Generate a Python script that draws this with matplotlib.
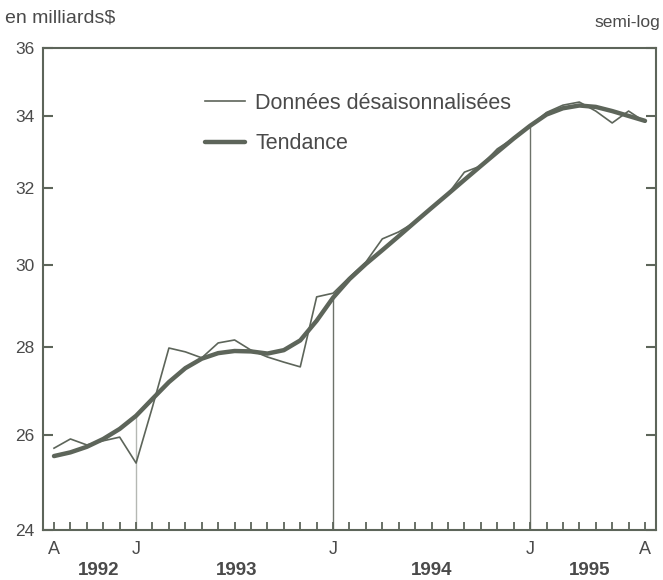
import matplotlib
matplotlib.use('Agg')

import numpy as np
import matplotlib.pyplot as plt

# monthly, aout 1992 .. aout 1995
months = np.arange(37)
raw = [25.71, 25.91, 25.78, 25.87, 25.95, 25.39, 26.62, 27.97, 27.88, 27.74,
       28.09, 28.16, 27.92, 27.76, 27.64, 27.53, 29.20, 29.29, 29.69, 30.07,
       30.66, 30.84, 31.10, 31.47, 31.84, 32.43, 32.60, 33.07, 33.37, 33.71,
       34.10, 34.31, 34.40, 34.14, 33.80, 34.14, 33.83]
trend = [25.54, 25.62, 25.74, 25.91, 26.13, 26.42, 26.80, 27.18, 27.50, 27.72,
         27.85, 27.90, 27.89, 27.84, 27.92, 28.15, 28.62, 29.18, 29.64, 30.02,
         30.37, 30.73, 31.10, 31.47, 31.84, 32.22, 32.60, 32.98, 33.36, 33.72,
         34.04, 34.22, 34.30, 34.26, 34.14, 34.00, 33.86]
month_labels = {0: 'A', 5: 'J', 17: 'J', 29: 'J', 36: 'A'}
years = ['1992', '1993', '1994', '1995']
year_pos = [2.7, 11.1, 23.0, 32.6]
yticks = [24, 26, 28, 30, 32, 34, 36]

LINE = '#5d655a'
TEXT = '#4a4a4a'
plt.rcParams['font.family'] = ['Liberation Sans', 'DejaVu Sans']

fig = plt.figure(figsize=(6.63, 5.8), dpi=100)
ax = fig.add_axes([43 / 663, 50 / 580, 613 / 663, 482 / 580])

ax.set_yscale('log')
ax.set_ylim(24, 36)
ax.set_xlim(-0.67, 36.67)

# vertical markers at each January
for i, c in [(5, '#b5b8b3'), (17, '#6d726a'), (29, '#6d726a')]:
    ax.vlines(i, 24, trend[i], color=c, lw=1.0, zorder=1)

ax.plot(months, raw, color=LINE, lw=1.2, label='Données désaisonnalisées', zorder=3)
ax.plot(months, trend, color=LINE, lw=3.2, label='Tendance', zorder=2,
        solid_capstyle='round', solid_joinstyle='round')

ax.set_yticks(yticks)
ax.set_yticklabels([str(t) for t in yticks])
ax.yaxis.set_minor_locator(matplotlib.ticker.NullLocator())
ax.set_xticks(months)
ax.set_xticklabels([month_labels.get(i, '') for i in months])

ax.tick_params(axis='y', direction='in', length=7, width=1.5, color=LINE,
               labelsize=12.5, labelcolor=TEXT, pad=6, right=True)
ax.tick_params(axis='x', direction='in', length=6, width=1.3, color=LINE,
               labelsize=13, labelcolor=TEXT, pad=8)
for s in ax.spines.values():
    s.set_color(LINE)
    s.set_linewidth(1.5)

for y, p in zip(years, year_pos):
    ax.text(p, -0.083, y, transform=ax.get_xaxis_transform(), ha='center',
            va='center', fontsize=13.5, fontweight='bold', color=TEXT)

fig.text(5 / 663, 1 - 18 / 580, 'en milliards$', fontsize=14, color=TEXT,
         ha='left', va='center')
fig.text(660 / 663, 1 - 23 / 580, 'semi-log', fontsize=12.5, color=TEXT,
         ha='right', va='center')

leg = ax.legend(loc='upper left', bbox_to_anchor=(0.25, 0.925), frameon=False,
                fontsize=15.5, handlelength=1.86, handletextpad=0.47,
                labelspacing=0.9, borderaxespad=0)
for t in leg.get_texts():
    t.set_color(TEXT)

fig.savefig('out.png', dpi=100, facecolor='white')
